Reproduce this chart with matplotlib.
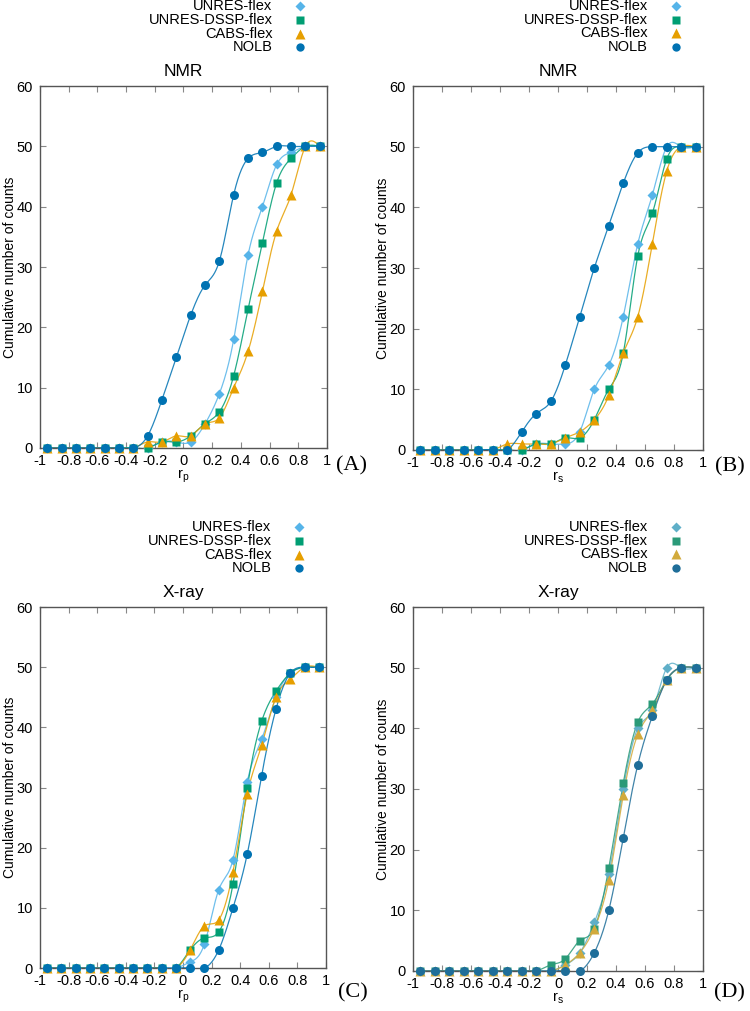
import numpy as np
import matplotlib
matplotlib.use("Agg")
import matplotlib.pyplot as plt

plt.rcParams['font.family'] = ['Liberation Sans', 'DejaVu Sans']

# bin centres of the correlation coefficient
x = [-0.95, -0.85, -0.75, -0.65, -0.55, -0.45, -0.35, -0.25, -0.15, -0.05,
     0.05, 0.15, 0.25, 0.35, 0.45, 0.55, 0.65, 0.75, 0.85, 0.95]

names = ["UNRES-flex", "UNRES-DSSP-flex", "CABS-flex", "NOLB"]

# (A) NMR, r_p
a_unres = [0, 0, 0, 0, 0, 0, 0, 0, 1, 1, 1, 4, 9, 18, 32, 40, 47, 49, 50, 50]
a_dssp = [0, 0, 0, 0, 0, 0, 0, 0, 1, 1, 2, 4, 6, 12, 23, 34, 44, 48, 50, 50]
a_cabs = [0, 0, 0, 0, 0, 0, 0, 1, 1, 2, 2, 4, 5, 10, 16, 26, 36, 42, 50, 50]
a_nolb = [0, 0, 0, 0, 0, 0, 0, 2, 8, 15, 22, 27, 31, 42, 48, 49, 50, 50, 50, 50]

# (B) NMR, r_s
b_unres = [0, 0, 0, 0, 0, 0, 0, 0, 1, 1, 1, 3, 10, 14, 22, 34, 42, 50, 50, 50]
b_dssp = [0, 0, 0, 0, 0, 0, 0, 0, 1, 1, 2, 2, 5, 10, 16, 32, 39, 48, 50, 50]
b_cabs = [0, 0, 0, 0, 0, 0, 1, 1, 1, 1, 2, 3, 5, 9, 16, 22, 34, 46, 50, 50]
b_nolb = [0, 0, 0, 0, 0, 0, 0, 3, 6, 8, 14, 22, 30, 37, 44, 49, 50, 50, 50, 50]

# (C) X-ray, r_p
c_unres = [0, 0, 0, 0, 0, 0, 0, 0, 0, 0, 1, 4, 13, 18, 31, 38, 45, 49, 50, 50]
c_dssp = [0, 0, 0, 0, 0, 0, 0, 0, 0, 0, 3, 5, 6, 14, 30, 41, 46, 49, 50, 50]
c_cabs = [0, 0, 0, 0, 0, 0, 0, 0, 0, 0, 3, 7, 8, 16, 29, 37, 45, 48, 50, 50]
c_nolb = [0, 0, 0, 0, 0, 0, 0, 0, 0, 0, 0, 0, 3, 10, 19, 32, 43, 49, 50, 50]

# (D) X-ray, r_s
d_unres = [0, 0, 0, 0, 0, 0, 0, 0, 0, 0, 1, 3, 8, 16, 30, 40, 43, 50, 50, 50]
d_dssp = [0, 0, 0, 0, 0, 0, 0, 0, 0, 1, 2, 5, 7, 17, 31, 41, 44, 48, 50, 50]
d_cabs = [0, 0, 0, 0, 0, 0, 0, 0, 0, 0, 1, 3, 7, 15, 29, 39, 43, 48, 50, 50]
d_nolb = [0, 0, 0, 0, 0, 0, 0, 0, 0, 0, 0, 0, 3, 10, 22, 34, 42, 48, 50, 50]

colors = ["#56B4E9", "#009E73", "#E69F00", "#0072B2"]
colors_d = ["#5FAFC8", "#2A9A78", "#D2AA3C", "#1F6E99"]
markers = ["D", "s", "^", "o"]
msizes = [5.5, 6, 7, 6.5]


def cspline(xs, ys, n=600):
    # natural cubic spline through the points (gnuplot "smooth csplines")
    xs = np.asarray(xs, float)
    ys = np.asarray(ys, float)
    k = len(xs)
    h = np.diff(xs)
    A = np.zeros((k, k))
    r = np.zeros(k)
    A[0, 0] = 1
    A[-1, -1] = 1
    for i in range(1, k - 1):
        A[i, i - 1] = h[i - 1]
        A[i, i] = 2 * (h[i - 1] + h[i])
        A[i, i + 1] = h[i]
        r[i] = 6 * ((ys[i + 1] - ys[i]) / h[i] - (ys[i] - ys[i - 1]) / h[i - 1])
    M = np.linalg.solve(A, r)
    xx = np.linspace(xs[0], xs[-1], n)
    j = np.clip(np.searchsorted(xs, xx) - 1, 0, k - 2)
    t1 = xs[j + 1] - xx
    t2 = xx - xs[j]
    hj = h[j]
    yy = (M[j] * t1 ** 3 + M[j + 1] * t2 ** 3) / (6 * hj) \
        + (ys[j] / hj - M[j] * hj / 6) * t1 + (ys[j + 1] / hj - M[j + 1] * hj / 6) * t2
    return xx, yy


panels = [
    ([0.0533, 0.5569, 0.3827, 0.358], "NMR", r"r$_\mathregular{p}$", "(A)",
     [a_unres, a_dssp, a_cabs, a_nolb], colors, (0.469, 0.539)),
    ([0.5507, 0.5549, 0.3867, 0.360], "NMR", r"r$_\mathregular{s}$", "(B)",
     [b_unres, b_dssp, b_cabs, b_nolb], colors, (0.973, 0.538)),
    ([0.0533, 0.0425, 0.3813, 0.357], "X-ray", r"r$_\mathregular{p}$", "(C)",
     [c_unres, c_dssp, c_cabs, c_nolb], colors, (0.471, 0.018)),
    ([0.5507, 0.0396, 0.3867, 0.360], "X-ray", r"r$_\mathregular{s}$", "(D)",
     [d_unres, d_dssp, d_cabs, d_nolb], colors_d, (0.973, 0.018)),
]

fig = plt.figure(figsize=(7.5, 10.11), dpi=100)

for rect, title, xlab, tag, series, cols, tagpos in panels:
    ax = fig.add_axes(rect)
    for i, y in enumerate(series):
        xx, yy = cspline(x, y)
        ax.plot(xx, yy, color=cols[i], lw=0.9, alpha=0.85, zorder=2 + i)
        ax.plot(x, y, ls="none", marker=markers[i], ms=msizes[i],
                color=cols[i], mec="none", zorder=6 + i, clip_on=False)
    ax.set_xlim(-1, 1)
    ax.set_ylim(0, 60)
    ax.set_xticks(np.arange(-1, 1.01, 0.2))
    ax.set_xticklabels(["-1", "-0.8", "-0.6", "-0.4", "-0.2", "0",
                        "0.2", "0.4", "0.6", "0.8", "1"])
    ax.set_yticks(range(0, 61, 10))
    ax.tick_params(direction="in", top=True, right=True, length=4,
                   width=0.8, color="#888888", labelsize=10.5)
    ax.tick_params(axis="x", pad=4)
    ax.tick_params(axis="y", pad=5)
    for s in ax.spines.values():
        s.set_color("#555555")
        s.set_linewidth(1.0)
    ax.set_title(title, fontsize=12.5, pad=7)
    ax.set_xlabel(xlab, fontsize=10.5, labelpad=0)
    ax.set_ylabel("Cumulative number of counts", fontsize=10)
    ax.yaxis.set_label_coords(-23 / (rect[2] * 750), 0.5)

    # gnuplot style key above the plot: text right aligned, symbol on the right
    rows = [1.221, 1.182, 1.145, 1.107]
    for i in range(4):
        ax.text(0.81, rows[i], names[i], transform=ax.transAxes, ha="right",
                va="center", fontsize=10.5)
        ax.plot([0.907], [rows[i]], transform=ax.transAxes, marker=markers[i],
                ms=msizes[i] - 0.5, color=cols[i], mec="none", clip_on=False)

    fig.text(tagpos[0], tagpos[1], tag, family="Liberation Serif",
             fontsize=16, ha="center", va="center")

plt.savefig("out.png", dpi=100)
